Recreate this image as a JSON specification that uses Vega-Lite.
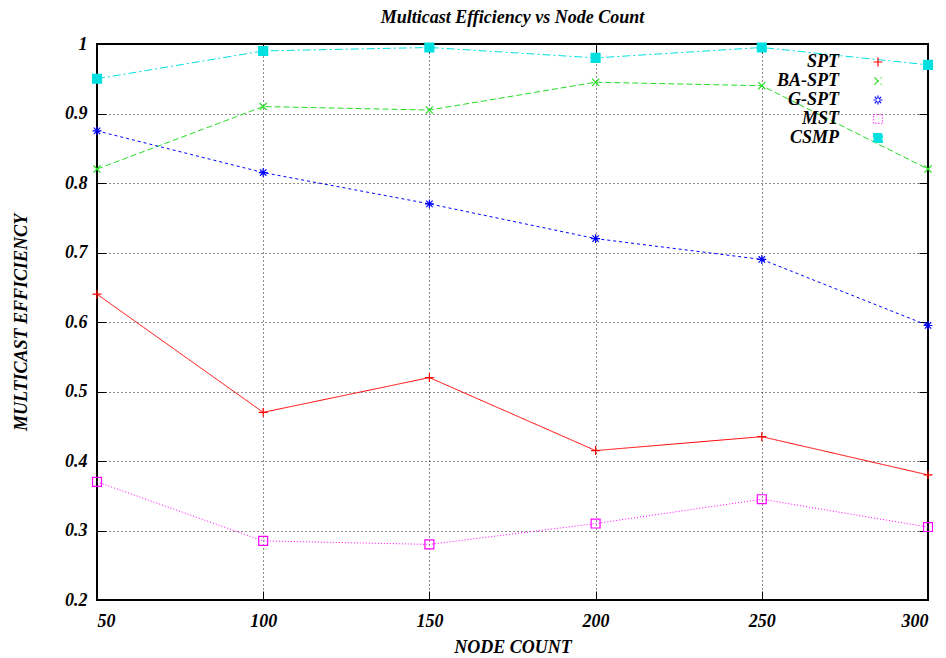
{
  "$schema": "https://vega.github.io/schema/vega-lite/v6.json",
  "width": 831,
  "height": 556,
  "autosize": {"type": "none"},
  "padding": {"left": 97, "top": 44, "right": 18, "bottom": 58},
  "background": "white",
  "title": {"text": "Multicast Efficiency vs Node Count", "font": "Liberation Serif", "fontSize": 18, "fontWeight": "bold", "fontStyle": "italic", "color": "black", "offset": 8},
  "config": {
    "view": {"stroke": "black", "strokeWidth": 2},
    "axis": {
      "labelFont": "Liberation Serif", "labelFontSize": 18, "labelFontWeight": "bold", "labelFontStyle": "italic", "labelColor": "black",
      "titleFont": "Liberation Serif", "titleFontSize": 18, "titleFontWeight": "bold", "titleFontStyle": "italic", "titleColor": "black",
      "grid": true, "gridColor": "black", "gridDash": [1, 3], "gridWidth": 1, "gridOpacity": 0.9,
      "domain": false, "ticks": true, "tickSize": -9, "tickColor": "black", "tickWidth": 1
    },
    "legend": {
      "labelFont": "Liberation Serif", "labelFontSize": 18, "labelFontWeight": "bold", "labelFontStyle": "italic", "labelColor": "black"
    }
  },
  "data": {"values": [
    {"n": 50, "series": "SPT", "value": 0.64},
    {"n": 100, "series": "SPT", "value": 0.47},
    {"n": 150, "series": "SPT", "value": 0.52},
    {"n": 200, "series": "SPT", "value": 0.415},
    {"n": 250, "series": "SPT", "value": 0.435},
    {"n": 300, "series": "SPT", "value": 0.38},
    {"n": 50, "series": "BA-SPT", "value": 0.82},
    {"n": 100, "series": "BA-SPT", "value": 0.91},
    {"n": 150, "series": "BA-SPT", "value": 0.905},
    {"n": 200, "series": "BA-SPT", "value": 0.945},
    {"n": 250, "series": "BA-SPT", "value": 0.94},
    {"n": 300, "series": "BA-SPT", "value": 0.82},
    {"n": 50, "series": "G-SPT", "value": 0.875},
    {"n": 100, "series": "G-SPT", "value": 0.815},
    {"n": 150, "series": "G-SPT", "value": 0.77},
    {"n": 200, "series": "G-SPT", "value": 0.72},
    {"n": 250, "series": "G-SPT", "value": 0.69},
    {"n": 300, "series": "G-SPT", "value": 0.595},
    {"n": 50, "series": "MST", "value": 0.37},
    {"n": 100, "series": "MST", "value": 0.285},
    {"n": 150, "series": "MST", "value": 0.28},
    {"n": 200, "series": "MST", "value": 0.31},
    {"n": 250, "series": "MST", "value": 0.345},
    {"n": 300, "series": "MST", "value": 0.305},
    {"n": 50, "series": "CSMP", "value": 0.95},
    {"n": 100, "series": "CSMP", "value": 0.99},
    {"n": 150, "series": "CSMP", "value": 0.995},
    {"n": 200, "series": "CSMP", "value": 0.98},
    {"n": 250, "series": "CSMP", "value": 0.995},
    {"n": 300, "series": "CSMP", "value": 0.97}
  ]},
  "resolve": {"axis": {"x": "independent", "y": "independent"}},
  "layer": [
    {
      "mark": {"type": "line", "strokeWidth": 1, "clip": false},
      "encoding": {
        "x": {"field": "n", "type": "quantitative",
          "scale": {"domain": [50, 300], "nice": false, "zero": false},
          "axis": {"values": [50, 100, 150, 200, 250, 300], "title": "NODE COUNT", "labelPadding": 21, "titlePadding": 8}},
        "y": {"field": "value", "type": "quantitative",
          "scale": {"domain": [0.2, 1], "nice": false, "zero": false},
          "axis": {"values": [0.2, 0.3, 0.4, 0.5, 0.6, 0.7, 0.8, 0.9, 1], "format": ".1~f", "title": "MULTICAST EFFICIENCY", "labelPadding": 19, "titlePadding": 34}},
        "stroke": {"field": "series", "type": "nominal",
          "scale": {"domain": ["SPT", "BA-SPT", "G-SPT", "MST", "CSMP"], "range": ["#ff0000", "#22dd22", "#0000ff", "#ff00ff", "#00e0e0"]},
          "legend": {"orient": "none", "legendX": 772, "legendY": 9, "title": null, "labelAlign": "right", "labelOffset": -48, "rowPadding": 1, "symbolSize": 80, "padding": 0, "symbolStrokeWidth": 1.2}},
        "strokeDash": {"field": "series", "type": "nominal",
          "scale": {"domain": ["SPT", "BA-SPT", "G-SPT", "MST", "CSMP"], "range": [[1, 0], [6, 3], [3, 3], [1, 2], [8, 3, 2, 3]]},
          "legend": null}
      }
    },
    {
      "mark": {"type": "point", "filled": false, "strokeWidth": 1.2, "opacity": 1, "clip": false},
      "encoding": {
        "x": {"field": "n", "type": "quantitative",
          "axis": {"orient": "top", "values": [50, 100, 150, 200, 250, 300], "labels": false, "grid": false, "title": null}},
        "y": {"field": "value", "type": "quantitative",
          "axis": {"orient": "right", "values": [0.2, 0.3, 0.4, 0.5, 0.6, 0.7, 0.8, 0.9, 1], "labels": false, "grid": false, "title": null}},
        "stroke": {"field": "series", "type": "nominal"},
        "shape": {"field": "series", "type": "nominal",
          "scale": {"domain": ["SPT", "BA-SPT", "G-SPT", "MST", "CSMP"], "range": ["M-1,0H1M0,-1V1", "M-0.8,-0.8L0.8,0.8M-0.8,0.8L0.8,-0.8", "M-1,0H1M0,-1V1M-0.72,-0.72L0.72,0.72M-0.72,0.72L0.72,-0.72", "square", "square"]}},
        "fill": {"field": "series", "type": "nominal",
          "scale": {"domain": ["SPT", "BA-SPT", "G-SPT", "MST", "CSMP"], "range": ["transparent", "transparent", "transparent", "transparent", "#00e0e0"]}},
        "size": {"value": 80}
      }
    }
  ]
}
